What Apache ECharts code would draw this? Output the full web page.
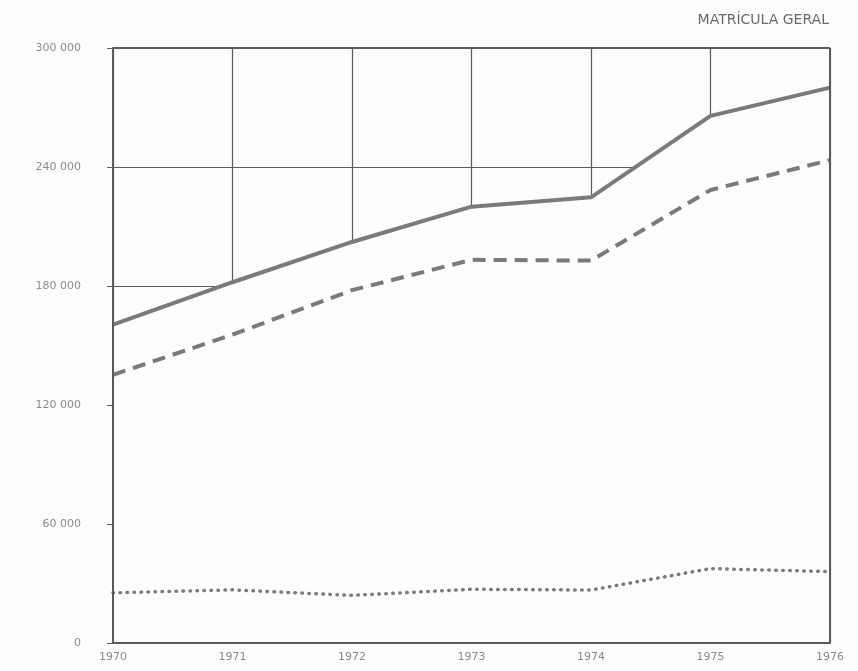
<!DOCTYPE html>
<html><head><meta charset="utf-8">
<script src="https://cdn.jsdelivr.net/npm/echarts@6/dist/echarts.min.js"></script>
<style>html,body{margin:0;padding:0;background:#fdfdfd}#c{width:858px;height:671px}</style>
</head><body><div id="c"></div>
<script>
const years = [1970, 1971, 1972, 1973, 1974, 1975, 1976];
const totalSeries = [160500, 181900, 202200, 220000, 224700, 265800, 280000];
const dashedSeries = [135200, 155500, 177900, 193200, 192800, 228400, 243500];
const dottedSeries = [25300, 26800, 24000, 27100, 26700, 37500, 36000];
const yTicks = [0, 60000, 120000, 180000, 240000, 300000];
const titleText = 'MATRÍCULA GERAL';

const pair = arr => years.map((y, i) => [y, arr[i]]);
const fmtY = v => v === 0 ? '0' : String(v).replace(/\B(?=(\d{3})+(?!\d))/g, ' ');
const lineCol = '#7a7a7a';
const gridCol = '#5a5a5a';
const txtCol = '#8a8a8a';
const border = (a, b) => ({
  type: 'line', data: [a, b], symbol: 'none', z: 5, silent: true,
  lineStyle: { color: gridCol, width: 2 }
});

const chart = echarts.init(document.getElementById('c'));
chart.setOption({
  backgroundColor: '#fdfdfd',
  animation: false,
  title: {
    text: titleText, right: 24, top: 8,
    textStyle: { color: '#6a6a6a', fontSize: 14, fontWeight: 'normal', fontFamily: 'DejaVu Sans' }
  },
  grid: { left: 113, right: 28, top: 48, bottom: 28 },
  xAxis: {
    type: 'value', min: 1970, max: 1976, interval: 1,
    axisLine: { show: true, lineStyle: { color: gridCol, width: 2 } },
    axisTick: { show: true, length: 4, inside: true, lineStyle: { color: gridCol } },
    axisLabel: { color: txtCol, fontSize: 11, margin: 9, fontFamily: 'DejaVu Sans', formatter: v => String(v) },
    splitLine: { show: true, lineStyle: { color: gridCol, width: 1.2 } }
  },
  yAxis: {
    type: 'value', min: 0, max: 300000, interval: 60000,
    axisLine: { show: true, lineStyle: { color: gridCol, width: 2 } },
    axisTick: { show: true, length: 6, lineStyle: { color: gridCol } },
    axisLabel: { color: txtCol, fontSize: 11, margin: 32, fontFamily: 'DejaVu Sans', formatter: fmtY },
    splitLine: { show: true, lineStyle: { color: gridCol, width: 1.2 } }
  },
  series: [
    {
      type: 'line', data: pair(totalSeries), symbol: 'none', z: 3,
      lineStyle: { color: lineCol, width: 4 },
      areaStyle: { color: '#fdfdfd', opacity: 1 }
    },
    {
      type: 'line', data: pair(dashedSeries), symbol: 'none', z: 4,
      lineStyle: { color: lineCol, width: 4, type: [13, 8] }
    },
    {
      type: 'line', data: pair(dottedSeries), symbol: 'none', z: 4,
      lineStyle: { color: lineCol, width: 3.5, type: [0.5, 6.5], cap: 'round' }
    },
    border([1970, 300000], [1976, 300000]),
    border([1976, 0], [1976, 300000]),
    border([1970, 0], [1970, 300000]),
    border([1970, 0], [1976, 0])
  ]
});
</script></body></html>
